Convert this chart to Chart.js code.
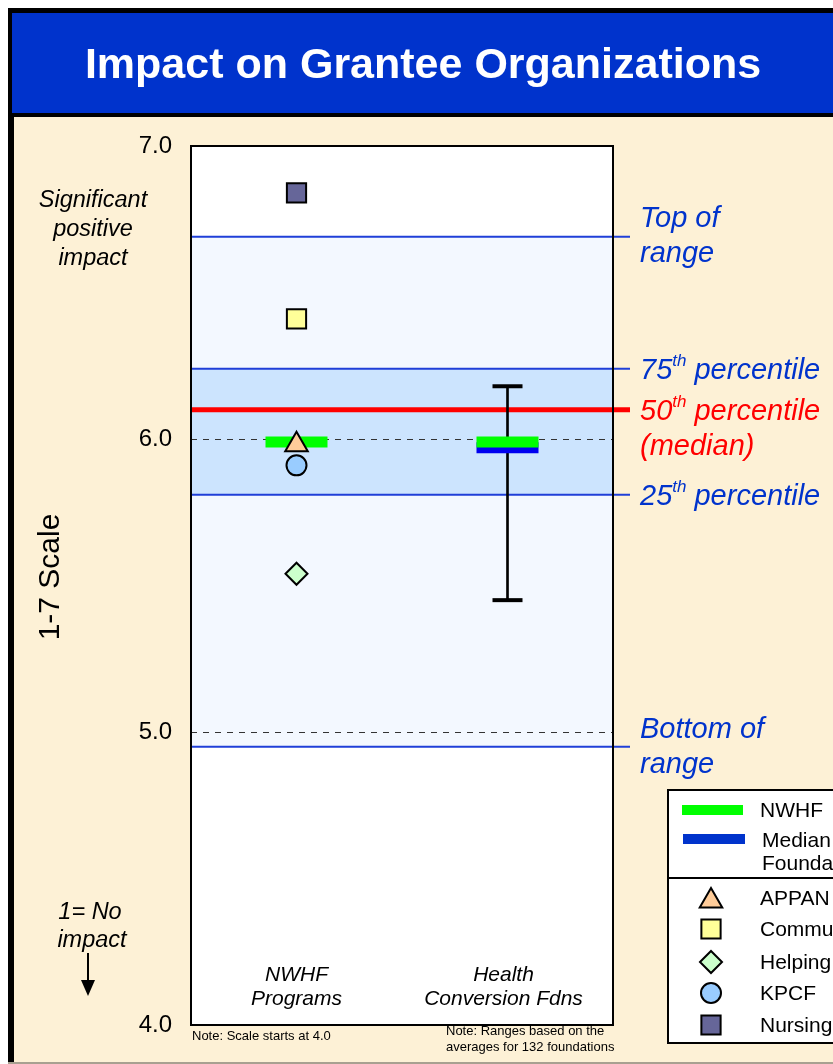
<!DOCTYPE html>
<html>
<head>
<meta charset="utf-8">
<title>Impact on Grantee Organizations</title>
<script src="https://cdn.jsdelivr.net/npm/chart.js@4/dist/chart.umd.min.js"></script>
<style>
  html, body { margin: 0; padding: 0; background: #ffffff; }
  #wrap { width: 833px; height: 1064px; position: relative; }
  canvas { display: block; }
</style>
</head>
<body>
<div id="wrap"><canvas id="chart" width="833" height="1064"></canvas></div>
<script>
// ---- data ----
const categories = ['NWHF Programs', 'Health Conversion Fdns'];
const categoryLines = [['NWHF', 'Programs'], ['Health', 'Conversion Fdns']];

const programNames = ['APPAN', 'Community Partners', 'Helping Hands', 'KPCF', 'Nursing Workforce'];
const programScores = [5.98, 6.41, 5.54, 5.91, 6.84];
const programStyles = ['triangle', 'rect', 'rectRot', 'circle', 'rect'];
const programColors = ['#FFCC99', '#FFFF99', '#CCFFCC', '#99CCFF', '#666699'];

const nwhfScore = [5.99, 5.99];          // NWHF overall, shown against both columns
const foundationMedian = [null, 5.97];   // median of the health conversion foundations
const foundationRange = [5.45, 6.18];    // low / high of the foundations' averages

const rangeTop = 6.69;
const percentile75 = 6.24;
const percentile50 = 6.10;
const percentile25 = 5.81;
const rangeBottom = 4.95;

const yTicks = [4, 5, 6, 7];
const dashedLevels = [5, 6];

// ---- styling ----
const FONT = '"Liberation Sans", Arial, Helvetica, sans-serif';
const BLUE_TEXT = '#0033CC';
const BEIGE = '#FDF1D6';

function supText(ctx, x, y, parts, size) {
  // parts: [[text, isSup], ...]
  let cx = x;
  parts.forEach(([t, sup]) => {
    const s = sup ? Math.round(size * 0.6) : size;
    ctx.font = 'italic ' + s + 'px ' + FONT;
    ctx.fillText(t, cx, sup ? y - size * 0.32 : y);
    cx += ctx.measureText(t).width;
  });
}

const decor = {
  id: 'decor',
  beforeDraw(chart) {
    const ctx = chart.ctx;
    const a = chart.chartArea;
    const y = chart.scales.y;
    ctx.save();
    ctx.fillStyle = '#ffffff';
    ctx.fillRect(0, 0, 833, 1064);
    // frame, banner and body
    ctx.fillStyle = '#000000';
    ctx.fillRect(8, 8, 825, 1056);
    ctx.fillStyle = '#0033CC';
    ctx.fillRect(12, 13, 821, 100);
    ctx.fillStyle = BEIGE;
    ctx.fillRect(14, 117, 819, 945);
    ctx.fillStyle = '#A8A090';
    ctx.fillRect(8, 1062, 825, 2);

    // title
    ctx.fillStyle = '#ffffff';
    ctx.font = 'bold 43px ' + FONT;
    ctx.textAlign = 'center';
    ctx.textBaseline = 'middle';
    ctx.fillText('Impact on Grantee Organizations', 423, 66);

    // left side notes
    ctx.fillStyle = '#000000';
    ctx.font = 'italic 23.5px ' + FONT;
    ctx.fillText('Significant', 93, 200);
    ctx.fillText('positive', 93, 229);
    ctx.fillText('impact', 93, 258);
    ctx.fillText('1= No', 90, 912);
    ctx.fillText('impact', 92, 940);
    // arrow
    ctx.strokeStyle = '#000000';
    ctx.lineWidth = 2;
    ctx.beginPath();
    ctx.moveTo(88, 953);
    ctx.lineTo(88, 982);
    ctx.stroke();
    ctx.beginPath();
    ctx.moveTo(81, 980);
    ctx.lineTo(95, 980);
    ctx.lineTo(88, 996);
    ctx.closePath();
    ctx.fill();

    // axis title
    ctx.save();
    ctx.translate(51, 577);
    ctx.rotate(-Math.PI / 2);
    ctx.font = '30px ' + FONT;
    ctx.fillText('1-7 Scale', 0, 0);
    ctx.restore();

    // plot background and bands
    ctx.fillStyle = '#ffffff';
    ctx.fillRect(a.left, a.top, a.right - a.left, a.bottom - a.top);
    const yTop = y.getPixelForValue(rangeTop), yBot = y.getPixelForValue(rangeBottom);
    ctx.fillStyle = '#F3F8FF';
    ctx.fillRect(a.left, yTop, a.right - a.left, yBot - yTop);
    const y75 = y.getPixelForValue(percentile75), y25 = y.getPixelForValue(percentile25);
    ctx.fillStyle = '#CCE4FE';
    ctx.fillRect(a.left, y75, a.right - a.left, y25 - y75);

    // dashed reference levels
    ctx.strokeStyle = '#333333';
    ctx.lineWidth = 1;
    ctx.setLineDash([6, 6]);
    dashedLevels.forEach(v => {
      const py = Math.round(y.getPixelForValue(v)) + 0.5;
      ctx.beginPath();
      ctx.moveTo(a.left, py);
      ctx.lineTo(a.right, py);
      ctx.stroke();
    });
    ctx.setLineDash([]);
    ctx.restore();
  },
  beforeDatasetsDraw(chart) {
    const ctx = chart.ctx;
    const a = chart.chartArea;
    const y = chart.scales.y;
    ctx.save();
    const lineEnd = 630;
    [[rangeTop, '#1F3FD8', 2], [percentile75, '#1F3FD8', 2], [percentile25, '#1F3FD8', 2],
     [rangeBottom, '#1F3FD8', 2], [percentile50, '#FF0000', 5]].forEach(([v, c, w]) => {
      const py = y.getPixelForValue(v);
      ctx.strokeStyle = c;
      ctx.lineWidth = w;
      ctx.beginPath();
      ctx.moveTo(a.left, py);
      ctx.lineTo(lineEnd, py);
      ctx.stroke();
    });
    ctx.restore();
  },
  afterDatasetsDraw(chart) {
    const ctx = chart.ctx;
    const a = chart.chartArea;
    const x = chart.scales.x;
    const y = chart.scales.y;
    ctx.save();
    // plot border
    ctx.strokeStyle = '#000000';
    ctx.lineWidth = 2;
    ctx.strokeRect(a.left, a.top, a.right - a.left, a.bottom - a.top);

    // category captions inside the plot
    ctx.fillStyle = '#000000';
    ctx.font = 'italic 21px ' + FONT;
    ctx.textAlign = 'center';
    ctx.textBaseline = 'middle';
    categories.forEach((c, i) => {
      const px = x.getPixelForValue(i) + (i === 1 ? -4 : 0);
      ctx.fillText(categoryLines[i][0], px, 975);
      ctx.fillText(categoryLines[i][1], px, 999);
    });

    // notes under the plot
    ctx.textAlign = 'left';
    ctx.font = '13px ' + FONT;
    ctx.fillText('Note: Scale starts at 4.0', 192, 1036);
    ctx.fillText('Note: Ranges based on the', 446, 1031);
    ctx.fillText('averages for 132 foundations', 446, 1047);

    // range / percentile captions
    const lx = 640;
    const size = 29;
    ctx.textBaseline = 'middle';
    ctx.fillStyle = BLUE_TEXT;
    ctx.font = 'italic ' + size + 'px ' + FONT;
    const pTop = y.getPixelForValue(rangeTop);
    ctx.fillText('Top of', lx, pTop - 18);
    ctx.fillText('range', lx, pTop + 17);
    supText(ctx, lx, y.getPixelForValue(percentile75) + 2, [['75', false], ['th', true], [' percentile', false]], size);
    ctx.fillStyle = '#FF0000';
    const p50 = y.getPixelForValue(percentile50);
    supText(ctx, lx, p50 + 2, [['50', false], ['th', true], [' percentile', false]], size);
    ctx.font = 'italic ' + size + 'px ' + FONT;
    ctx.fillText('(median)', lx, p50 + 37);
    ctx.fillStyle = BLUE_TEXT;
    supText(ctx, lx, y.getPixelForValue(percentile25) + 2, [['25', false], ['th', true], [' percentile', false]], size);
    ctx.font = 'italic ' + size + 'px ' + FONT;
    const pBot = y.getPixelForValue(rangeBottom);
    ctx.fillText('Bottom of', lx, pBot - 17);
    ctx.fillText('range', lx, pBot + 18);

    // legend
    const lgX = 668, lgY = 790, lgB = 1043;
    ctx.fillStyle = '#ffffff';
    ctx.fillRect(lgX, lgY, 833 - lgX, lgB - lgY);
    ctx.strokeStyle = '#000000';
    ctx.lineWidth = 2;
    ctx.strokeRect(lgX, lgY, 833 - lgX + 4, lgB - lgY);
    ctx.beginPath();
    ctx.moveTo(lgX, 878);
    ctx.lineTo(833, 878);
    ctx.stroke();

    ctx.fillStyle = '#00FF00';
    ctx.fillRect(682, 805, 61, 10);
    ctx.fillStyle = '#0033CC';
    ctx.fillRect(683, 834, 62, 10);

    ctx.fillStyle = '#000000';
    ctx.font = '21px ' + FONT;
    ctx.textAlign = 'left';
    ctx.fillText('NWHF', 760, 811);
    ctx.fillText('Median Conversion', 762, 841);
    ctx.fillText('Foundations', 762, 864);

    const rowY = [898, 929, 962, 993, 1025];
    programNames.forEach((n, i) => {
      const ds = chart.data.datasets.find(d => d.label === n);
      ctx.fillStyle = '#000000';
      ctx.fillText(n, 760, rowY[i] + 1);
      ctx.save();
      ctx.fillStyle = ds.pointBackgroundColor;
      ctx.strokeStyle = '#000000';
      ctx.lineWidth = 2;
      Chart.helpers.drawPoint(ctx, {
        pointStyle: ds.pointStyle,
        radius: ds.pointRadius,
        borderWidth: 2,
        rotation: 0
      }, 711, rowY[i] + (ds.pointStyle === 'triangle' ? 3 : 0));
      ctx.restore();
    });
    ctx.restore();
  }
};

const pointRadii = { triangle: 13, rect: 13.6, rectRot: 11, circle: 10 };

const programDatasets = programNames.map((n, i) => ({
  type: 'line',
  label: n,
  data: [{ x: categories[0], y: programScores[i] }],
  showLine: false,
  pointStyle: programStyles[i],
  pointRadius: pointRadii[programStyles[i]],
  pointBackgroundColor: programColors[i],
  pointBorderColor: '#000000',
  pointBorderWidth: 2,
  order: 1
}));

const chart = new Chart(document.getElementById('chart'), {
  type: 'line',
  data: {
    labels: categories,
    datasets: [
      {
        type: 'bar',
        label: 'Foundation range',
        data: [null, foundationRange],
        backgroundColor: '#000000',
        barThickness: 2,
        order: 5
      },
      {
        type: 'line',
        label: 'Range caps',
        data: foundationRange.map(v => ({ x: categories[1], y: v })),
        showLine: false,
        pointStyle: 'line',
        pointRadius: 15,
        pointBorderWidth: 4,
        pointBorderColor: '#000000',
        order: 4
      },
      {
        type: 'line',
        label: 'Median of Foundations',
        data: foundationMedian,
        showLine: false,
        pointStyle: 'line',
        pointRadius: 31,
        pointBorderWidth: 11,
        pointBorderColor: '#0000F0',
        order: 3
      },
      {
        type: 'line',
        label: 'NWHF',
        data: nwhfScore,
        showLine: false,
        pointStyle: 'line',
        pointRadius: 31,
        pointBorderWidth: 11,
        pointBorderColor: '#00FF00',
        order: 2
      },
      ...programDatasets
    ]
  },
  options: {
    responsive: false,
    animation: false,
    events: [],
    layout: { autoPadding: false, padding: { left: 0, top: 146, right: 220, bottom: 39 } },
    plugins: { legend: { display: false }, tooltip: { enabled: false } },
    scales: {
      x: { type: 'category', offset: true, display: false },
      y: {
        min: 4, max: 7,
        afterBuildTicks(s) { s.ticks = yTicks.map(v => ({ value: v })); },
        afterFit(s) { s.width = 191; },
        grid: { display: false, drawTicks: false },
        border: { display: false },
        ticks: {
          padding: 19,
          color: '#000000',
          font: { family: FONT, size: 24 },
          callback: v => Number(v).toFixed(1)
        }
      }
    }
  },
  plugins: [decor]
});
</script>
</body>
</html>
